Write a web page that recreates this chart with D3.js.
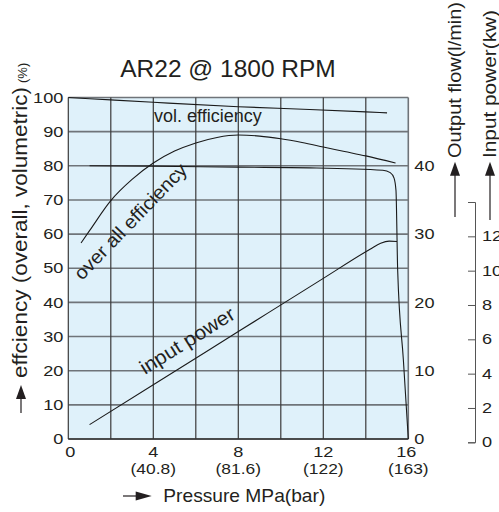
<!DOCTYPE html>
<html>
<head>
<meta charset="utf-8">
<script src="https://cdn.jsdelivr.net/npm/d3@7"></script>
<style>
  body { margin: 0; background: #fff; }
  text { font-family: "Liberation Sans", Arial, sans-serif; fill: #231f20; }
</style>
</head>
<body>
<svg id="chart" width="499" height="512"></svg>
<script>
// ticks
var pressureTicks = [0, 4, 8, 12, 16];
var barLabels = ["", "(40.8)", "(81.6)", "(122)", "(163)"];
var effTicks = [0, 10, 20, 30, 40, 50, 60, 70, 80, 90, 100];
var flowTicks = [0, 10, 20, 30, 40];
var powerTicks = [0, 2, 4, 6, 8, 10, 12];

// vol. efficiency (%)
var volPressure = [0, 2, 4, 8, 11.35, 14, 15];
var volEff = [100, 99.3, 98.6, 97.3, 96.5, 95.8, 95.5];

// over all efficiency (%)
var allPressure = [0.6, 1, 2, 3, 4, 5, 6, 7, 8, 9, 10, 11, 12, 13, 14, 15.4];
var allEff = [57.4, 61, 69.8, 76, 80.8, 84.3, 86.7, 88.3, 89, 88.7, 87.9, 86.8, 85.5, 84.2, 82.9, 80.8];

// output flow (l/min)
var flowPressure = [1, 4, 8, 11.35, 14.8, 15.15, 15.33, 15.42, 15.5, 15.77, 16];
var flowValues = [40, 39.95, 39.8, 39.7, 39.35, 39.0, 38.2, 36.4, 24.7, 11.5, 0];

// input power (kW)
var powerPressure = [1, 4, 8, 12, 14.2, 14.7, 15.1, 15.47];
var powerValues = [1.03, 3.35, 6.45, 9.55, 11.25, 11.6, 11.72, 11.7];

var svg = d3.select("#chart");

// plot box (window.top is taken, so own names)
var pLeft = 68.3, pRight = 408.3, pTop = 97.5, pBottom = 439;

var x = d3.scaleLinear().domain([0, 16]).range([pLeft, pRight]);
var y = d3.scaleLinear().domain([0, 100]).range([pBottom, pTop]);
var yFlow = d3.scaleLinear().domain([0, 50]).range([pBottom, pTop]);
var yPow = d3.scaleLinear().domain([0, 14]).range([442.3, 202]);

// stretch text horizontally like the wide helvetica of the original
function stretch(sel, k) {
  sel.each(function() {
    var w = this.getComputedTextLength();
    d3.select(this).attr("textLength", w * k).attr("lengthAdjust", "spacingAndGlyphs");
  });
}

// plot background
svg.append("rect")
  .attr("x", pLeft).attr("y", pTop)
  .attr("width", pRight - pLeft).attr("height", pBottom - pTop)
  .attr("fill", "#dff1fa");

// grid
svg.append("g").selectAll("line")
  .data(y.ticks(10))
  .join("line")
  .attr("x1", pLeft).attr("x2", pRight)
  .attr("y1", d => y(d)).attr("y2", d => y(d))
  .attr("stroke", "#6f7479").attr("stroke-width", 1.6);

svg.append("g").selectAll("line")
  .data(x.ticks(8))
  .join("line")
  .attr("x1", d => x(d)).attr("x2", d => x(d))
  .attr("y1", pTop).attr("y2", pBottom)
  .attr("stroke", d => (d == 16 ? "#6f7479" : "#3a3a3a"))
  .attr("stroke-width", d => (d == 16 ? 1.6 : 1.2));

svg.append("line")
  .attr("x1", pLeft).attr("x2", pRight).attr("y1", pBottom).attr("y2", pBottom)
  .attr("stroke", "#333").attr("stroke-width", 1.4);

// curves
function drawCurve(xs, ys, yScale) {
  var pts = xs.map((d, i) => [x(d), yScale(ys[i])]);
  svg.append("path")
    .attr("d", d3.line().curve(d3.curveMonotoneX)(pts))
    .attr("fill", "none")
    .attr("stroke", "#1a1a1a")
    .attr("stroke-width", 1.1);
}
drawCurve(volPressure, volEff, y);
drawCurve(allPressure, allEff, y);
drawCurve(flowPressure, flowValues, yFlow);
drawCurve(powerPressure, powerValues, yPow);

// left axis
var gl = svg.append("g")
  .attr("transform", `translate(${pLeft},0)`)
  .call(d3.axisLeft(y).tickValues(effTicks).tickSize(0).tickPadding(5));
gl.select(".domain").remove();
gl.selectAll("text").attr("font-size", 14.5).attr("font-family", null).call(stretch, 1.25);

// output flow axis
var gf = svg.append("g")
  .attr("transform", `translate(${pRight},0)`)
  .call(d3.axisRight(yFlow).tickValues(flowTicks).tickSize(0).tickPadding(6));
gf.select(".domain").remove();
gf.selectAll("text").attr("font-size", 14.5).attr("font-family", null).call(stretch, 1.25);

// input power axis
var gp = svg.append("g")
  .attr("transform", "translate(475,0)")
  .call(d3.axisRight(yPow).tickValues(powerTicks).tickSizeInner(-7).tickSizeOuter(-7).tickPadding(7));
gp.select(".domain").attr("stroke", "#555");
gp.selectAll(".tick line").attr("stroke", "#555");
gp.selectAll("text").attr("font-size", 14.5).attr("font-family", null).call(stretch, 1.25);

// bottom labels, MPa and (bar)
var gb = svg.append("g");
gb.selectAll("text.mpa")
  .data(pressureTicks)
  .join("text")
  .attr("class", "mpa")
  .attr("x", d => x(d) + (d == 0 ? 2 : 0) - (d == 16 ? 2 : 0)).attr("y", 457)
  .attr("text-anchor", "middle").attr("font-size", 14.5)
  .text(d => d)
  .call(stretch, 1.25);
gb.selectAll("text.bar")
  .data(pressureTicks)
  .join("text")
  .attr("class", "bar")
  .attr("x", d => x(d)).attr("y", 473.5)
  .attr("text-anchor", "middle").attr("font-size", 14.5)
  .text((d, i) => barLabels[i])
  .call(stretch, 1.2);

// title
svg.append("text")
  .attr("x", 228).attr("y", 77.3)
  .attr("text-anchor", "middle").attr("font-size", 24.5)
  .text("AR22 @ 1800 RPM");

// curve labels
svg.append("text")
  .attr("x", 154).attr("y", 122)
  .attr("font-size", 18)
  .text("vol. efficiency");

svg.append("text")
  .attr("transform", "translate(82,281) rotate(-46)")
  .attr("font-size", 19)
  .text("over all efficiency")
  .attr("textLength", 153).attr("lengthAdjust", "spacingAndGlyphs");

svg.append("text")
  .attr("transform", "translate(145,375) rotate(-32)")
  .attr("font-size", 20)
  .text("input power")
  .attr("textLength", 108).attr("lengthAdjust", "spacingAndGlyphs");

// arrows
function arrowUp(ax, y1, y2) {
  svg.append("line").attr("x1", ax).attr("x2", ax).attr("y1", y1).attr("y2", y2 + 8)
    .attr("stroke", "#231f20").attr("stroke-width", 1.2);
  svg.append("path").attr("d", "M0,0L-5,14L5,14Z")
    .attr("transform", `translate(${ax},${y2})`).attr("fill", "#231f20");
}
arrowUp(21, 413, 385);
arrowUp(455, 217, 161.7);
arrowUp(490, 220, 161.7);

// pressure arrow
svg.append("line").attr("x1", 123).attr("x2", 142).attr("y1", 496).attr("y2", 496)
  .attr("stroke", "#231f20").attr("stroke-width", 1.2);
svg.append("path").attr("d", "M0,0L-16,-4.5L-16,4.5Z")
  .attr("transform", "translate(151.7,496)").attr("fill", "#231f20");

// axis titles
var yt = svg.append("text")
  .attr("transform", "translate(27.3,378) rotate(-90)")
  .attr("font-size", 19.5);
yt.append("tspan").text("effciency (overall, volumetric)")
  .attr("textLength", 291).attr("lengthAdjust", "spacingAndGlyphs");
yt.append("tspan").attr("font-size", 13).attr("dx", 4).text("(%)");

svg.append("text")
  .attr("x", 163.3).attr("y", 501.7)
  .attr("font-size", 18.5)
  .text("Pressure MPa(bar)")
  .attr("textLength", 162).attr("lengthAdjust", "spacingAndGlyphs");

svg.append("text")
  .attr("transform", "translate(460.5,158) rotate(-90)")
  .attr("font-size", 17.5)
  .text("Output flow(l/min)")
  .attr("textLength", 156).attr("lengthAdjust", "spacingAndGlyphs");

svg.append("text")
  .attr("transform", "translate(496,158) rotate(-90)")
  .attr("font-size", 17.5)
  .text("Input power(kw)")
  .attr("textLength", 148).attr("lengthAdjust", "spacingAndGlyphs");
</script>
</body>
</html>
